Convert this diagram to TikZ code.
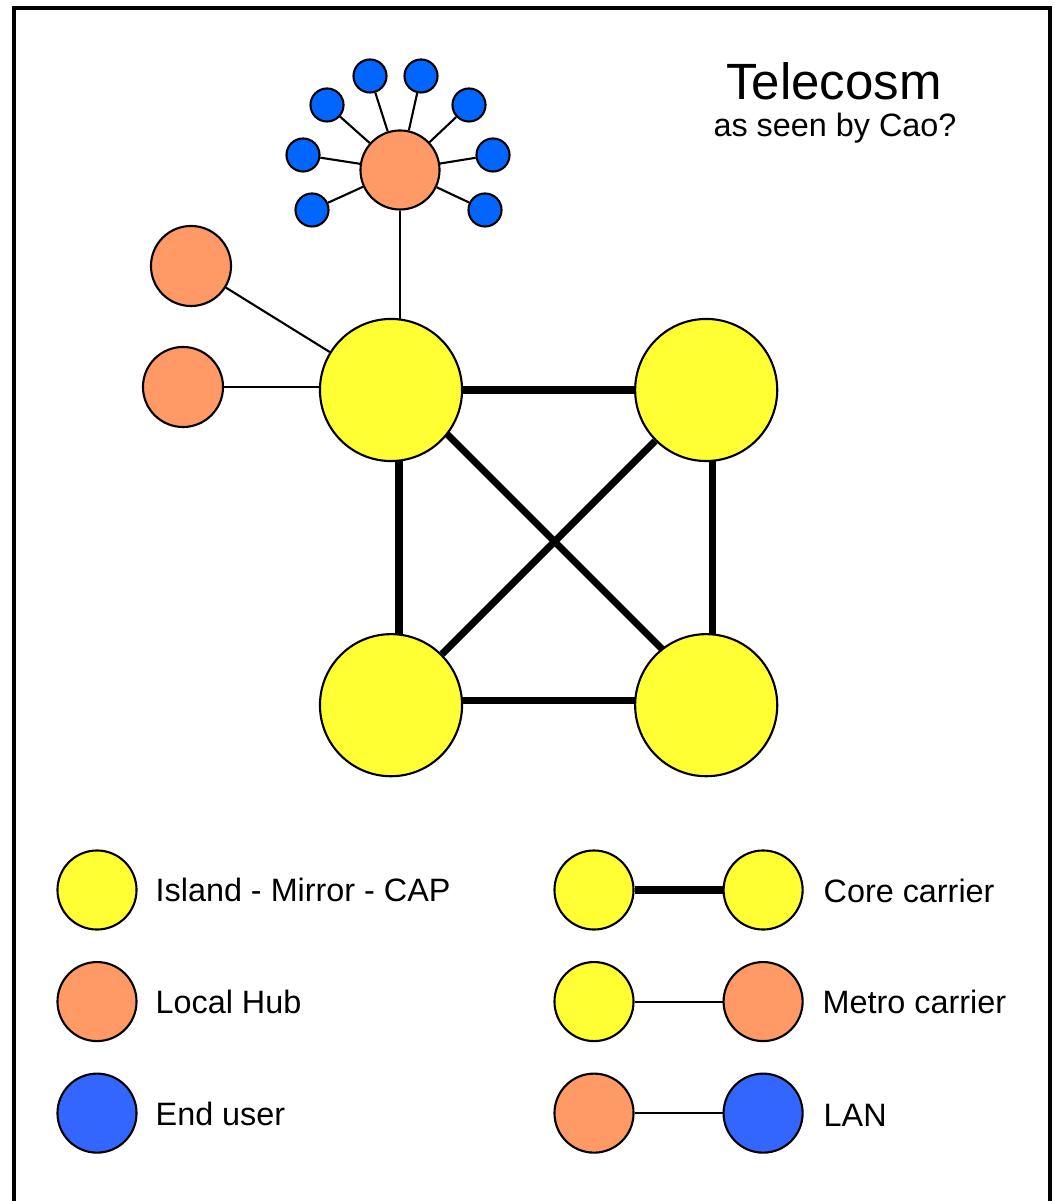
\documentclass[tikz,border=0pt]{standalone}
\usepackage{fontspec}
\setmainfont{Liberation Sans}
\usetikzlibrary{positioning,calc}

\pgfdeclarelayer{bg}
\pgfsetlayers{bg,main}

\definecolor{islc}{HTML}{FFFF33}
\definecolor{hubc}{HTML}{FF9966}
\definecolor{usrc}{HTML}{0066FF}
\definecolor{lanc}{HTML}{3366FF}

\tikzset{
    island/.style={circle, draw, line width=0.6pt, inner sep=0pt, fill=islc, minimum size=1.42cm},
    hub/.style={circle, draw, line width=0.6pt, inner sep=0pt, fill=hubc, minimum size=0.79cm},
    user/.style={circle, draw, line width=0.6pt, inner sep=0pt, fill=usrc, minimum size=0.33cm},
    key/.style={circle, draw, line width=0.6pt, inner sep=0pt, minimum size=0.79cm},
    core/.style={line width=2pt},
    metro/.style={line width=0.6pt},
    lbl/.style={anchor=base west, inner sep=0pt, font=\fontsize{9.2}{11}\selectfont}
}

\begin{document}
\begin{tikzpicture}[x=0.01cm, y=-0.01cm]
        \useasboundingbox (0,0) rectangle (1058,1201);
        \draw[line width=1.3pt] (14,1201) -- (14,8) -- (1050,8) -- (1050,1201);

        \node[island] (tl) at (391,390) {};
        \node[island, right of=tl, node distance=3.15cm] (tr) {};
        \node[island, below of=tl, node distance=3.15cm] (bl) {};
        \node[island, right of=bl, node distance=3.15cm] (br) {};

        \node[hub] (hub) at (400,170) {};
        \node[hub, minimum size=0.8cm] (la) at (191,266) {};
        \node[hub, minimum size=0.8cm] (lb) at (183,387) {};

        \foreach \x/\y [count=\i] in {370/76, 421/76, 327/105, 469/105, 303/155, 493/155, 312/210, 485/210}
            \node[user] (u\i) at (\x,\y) {};

        \begin{pgfonlayer}{bg}
            \draw[core] (tl) -- (tr);
            \draw[core] ($ (tl)+(8,0) $) -- ($ (bl)+(8,0) $);
            \draw[core] ($ (tr)+(6,0) $) -- ($ (br)+(6,0) $);
            \draw[core] ($ (bl)+(0,-5) $) -- ($ (br)+(0,-5) $);
            \draw[core] ($ (tl)+(6,-6) $) -- ($ (br)+(6,-6) $);
            \draw[core] (tr) -- (bl);

            \draw[metro] (hub) -- (hub |- tl);
            \draw[metro] (la) -- (tl);
            \draw[metro] (lb) -- (lb -| tl);
            \foreach \i in {1,...,8}
                \draw[metro] (hub) -- (u\i);
        \end{pgfonlayer}

        \node[anchor=base, inner sep=0pt, font=\fontsize{14.5}{17}\selectfont] (title) at (834,100) {Telecosm};
        \node[anchor=base, inner sep=0pt, font=\fontsize{9.2}{11}\selectfont] (sub) at (835,137) {as seen by Cao?};

        \node[key, fill=islc] (k1) at (97,890) {};
        \node[key, fill=hubc, below of=k1, node distance=1.115cm] (k2) {};
        \node[key, fill=lanc, below of=k2, node distance=1.115cm] (k3) {};
        \node[lbl] (t1) at (155,901) {Island - Mirror - CAP};
        \node[lbl] (t2) at (155,1013) {Local Hub};
        \node[lbl] (t3) at (155,1125) {End user};

        \node[key, fill=islc] (c1) at (594,890) {};
        \node[key, fill=islc, right of=c1, node distance=1.69cm] (c2) {};
        \node[key, fill=islc, below of=c1, node distance=1.115cm] (m1) {};
        \node[key, fill=hubc, right of=m1, node distance=1.69cm] (m2) {};
        \node[key, fill=hubc, below of=m1, node distance=1.115cm] (n1) {};
        \node[key, fill=lanc, right of=n1, node distance=1.69cm] (n2) {};

        \begin{pgfonlayer}{bg}
            \draw[core] (c1) -- (c2);
            \draw[metro] (m1) -- (m2);
            \draw[metro] (n1) -- (n2);
        \end{pgfonlayer}

        \node[lbl] (t4) at (823,902) {Core carrier};
        \node[lbl] (t5) at (822,1013) {Metro carrier};
        \node[lbl] (t6) at (823,1126) {LAN};
    \end{tikzpicture}
\end{document}
